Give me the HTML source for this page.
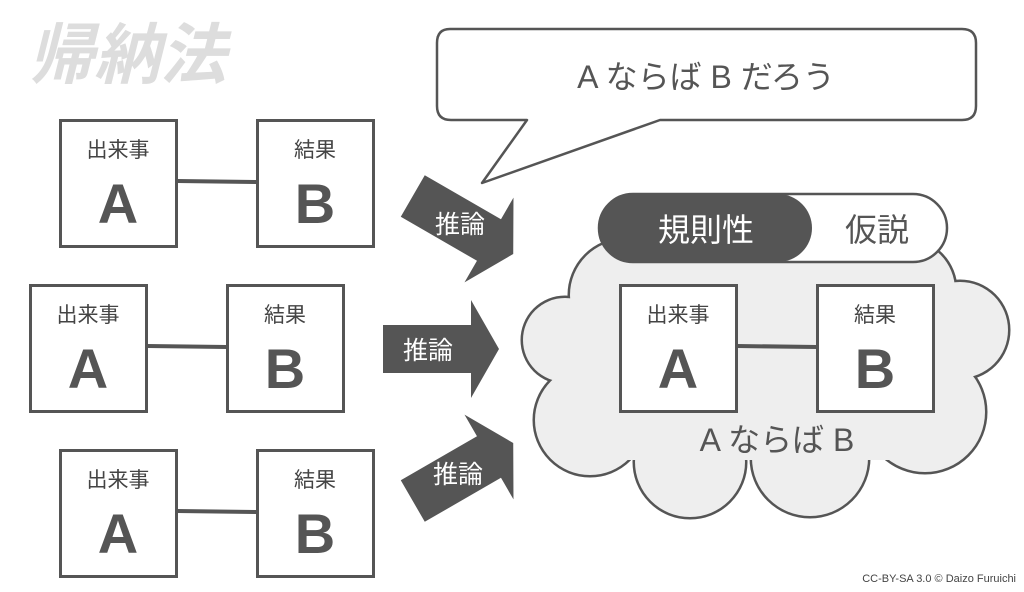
<!DOCTYPE html>
<html><head><meta charset="utf-8"><style>
html,body{margin:0;padding:0;background:#fff;}
body{width:1024px;height:587px;overflow:hidden;}
text{font-family:"Liberation Sans","Noto Sans CJK JP",sans-serif;}
</style></head><body>
<svg width="1024" height="587" viewBox="0 0 1024 587" xmlns="http://www.w3.org/2000/svg">
<defs>
<g id="arr"><polygon points="-58,-24 30,-24 30,-49 58,0 30,49 30,24 -58,24" fill="#555"/></g>
<g id="pair">
<rect x="1.5" y="1.5" width="116" height="126" fill="#fff" stroke="#555" stroke-width="3"/>
<rect x="198.5" y="1.5" width="116" height="126" fill="#fff" stroke="#555" stroke-width="3"/>
<line x1="118" y1="62" x2="198" y2="63" stroke="#555" stroke-width="4"/>
<text x="59" y="38" font-size="21" fill="#444" text-anchor="middle">出来事</text>
<text x="256" y="38" font-size="21" fill="#444" text-anchor="middle">結果</text>
<text x="59" y="104" font-size="56" font-weight="bold" fill="#555" text-anchor="middle">A</text>
<text x="256" y="104" font-size="56" font-weight="bold" fill="#555" text-anchor="middle">B</text>
</g>
</defs>
<text x="28" y="78" font-size="66" font-weight="bold" font-style="italic" fill="#ddd">帰納法</text>
<use href="#pair" x="59" y="119"/>
<use href="#pair" x="29" y="284"/>
<use href="#pair" x="59" y="449"/>

<path d="M450,29 H962 Q976,29 976,43 V106 Q976,120 962,120 H660 L482,183 L527,120 H451 Q437,120 437,106 V43 Q437,29 450,29 Z" fill="#fff" stroke="#555" stroke-width="2.5" stroke-linejoin="round"/>
<text x="706" y="88" font-size="32" fill="#555" text-anchor="middle">A ならば B だろう</text>

<g transform="translate(463,225) rotate(30)"><use href="#arr"/></g>
<g transform="translate(441,349)"><use href="#arr"/></g>
<g transform="translate(463,472) rotate(-30)"><use href="#arr"/></g>
<g font-size="25" fill="#fff" text-anchor="middle">
<text x="460" y="233">推論</text>
<text x="428" y="359">推論</text>
<text x="458" y="483">推論</text>
</g>

<g stroke="#555" stroke-width="5" fill="#555">
<circle cx="565" cy="340" r="42"/><circle cx="590" cy="420" r="55"/><circle cx="690" cy="462" r="55"/>
<circle cx="810" cy="458" r="58"/><circle cx="925" cy="412" r="60"/><circle cx="960" cy="330" r="48"/>
<circle cx="905" cy="290" r="50"/><circle cx="770" cy="295" r="60"/><circle cx="625" cy="295" r="55"/>
</g>
<g fill="#eee">
<circle cx="565" cy="340" r="42"/><circle cx="590" cy="420" r="55"/><circle cx="690" cy="462" r="55"/>
<circle cx="810" cy="458" r="58"/><circle cx="925" cy="412" r="60"/><circle cx="960" cy="330" r="48"/>
<circle cx="905" cy="290" r="50"/><circle cx="770" cy="295" r="60"/><circle cx="625" cy="295" r="55"/>
<rect x="585" y="270" width="365" height="190"/>
<rect x="600" y="256" width="340" height="20"/>
</g>

<rect x="599" y="194" width="348" height="68" rx="34" fill="#fff" stroke="#555" stroke-width="2.5"/>
<path d="M633,194 H778 A34,34 0 0 1 778,262 H633 A34,34 0 0 1 633,194 Z" fill="#555"/>
<text x="706" y="241" font-size="32" fill="#fff" text-anchor="middle">規則性</text>
<text x="877" y="241" font-size="32" fill="#555" text-anchor="middle">仮説</text>

<use href="#pair" x="619" y="284"/>
<text x="777" y="451" font-size="32" fill="#555" text-anchor="middle">A ならば B</text>

<text x="1016" y="582" font-size="11" fill="#444" text-anchor="end">CC-BY-SA 3.0 © Daizo Furuichi</text>
</svg>
</body></html>
